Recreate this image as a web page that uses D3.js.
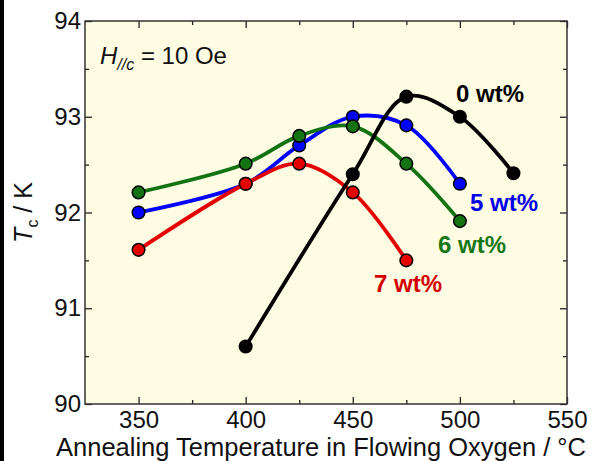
<!DOCTYPE html>
<html>
<head>
<meta charset="utf-8">
<script src="https://cdn.jsdelivr.net/npm/d3@7"></script>
<style>
  body { margin: 0; background: #fff; }
  svg { display: block; font-family: "Liberation Sans", Arial, sans-serif; }
</style>
</head>
<body>
<div id="chart"></div>
<script>
// annealing temperatures (°C) and Tc (K) per Ag content
const temps0 = [400, 450, 475, 500, 525];
const tc0 = [90.6, 92.4, 93.21, 93.0, 92.41];
const temps5 = [350, 400, 425, 450, 475, 500];
const tc5 = [92.0, 92.3, 92.7, 93.0, 92.91, 92.3];
const temps6 = [350, 400, 425, 450, 475, 500];
const tc6 = [92.21, 92.51, 92.8, 92.9, 92.51, 91.91];
const temps7 = [350, 400, 425, 450, 475];
const tc7 = [91.61, 92.3, 92.51, 92.21, 91.5];

const xMajor = [350, 400, 450, 500, 550];
const xMinor = [375, 425, 475, 525];
const yMajor = [90, 91, 92, 93, 94];
const yMinor = [90.5, 91.5, 92.5, 93.5];

const W = 598, H = 461;
const margin = { top: 21, right: 31, bottom: 57, left: 85 };

const svg = d3.select("#chart").append("svg")
    .attr("width", W)
    .attr("height", H);

// dark strip on the left edge of the original figure
svg.append("rect").attr("x", 0).attr("y", 0).attr("width", 4).attr("height", H).attr("fill", "#000");

const x = d3.scaleLinear().domain([325, 550]).range([margin.left, W - margin.right]);
const y = d3.scaleLinear().domain([90, 94]).range([H - margin.bottom, margin.top]);

// plot background
svg.append("rect")
    .attr("x", x(325)).attr("y", y(94))
    .attr("width", x(550) - x(325)).attr("height", y(90) - y(94))
    .attr("fill", "#fefde3");

// axes, ticks pointing inward on all four sides
function styleAxis(g) {
    g.select(".domain").remove();
    g.selectAll("line").attr("stroke", "#222").attr("stroke-width", 1.3);
    g.selectAll("text").attr("fill", "#111").style("font-size", "24px").style("font-family", "Liberation Sans, Arial, sans-serif");
}

svg.append("g").attr("transform", `translate(0,${y(90)})`)
    .call(d3.axisBottom(x).tickValues(xMajor).tickSize(-7).tickPadding(7).tickFormat(d3.format("d")))
    .call(styleAxis);
svg.append("g").attr("transform", `translate(0,${y(90)})`)
    .call(d3.axisBottom(x).tickValues(xMinor).tickSize(-4).tickFormat(""))
    .call(styleAxis);
svg.append("g").attr("transform", `translate(0,${y(94)})`)
    .call(d3.axisTop(x).tickValues(xMajor).tickSize(-7).tickFormat(""))
    .call(styleAxis);
svg.append("g").attr("transform", `translate(0,${y(94)})`)
    .call(d3.axisTop(x).tickValues(xMinor).tickSize(-4).tickFormat(""))
    .call(styleAxis);

svg.append("g").attr("transform", `translate(${x(325)},0)`)
    .call(d3.axisLeft(y).tickValues(yMajor).tickSize(-7).tickPadding(4).tickFormat(d3.format("d")))
    .call(styleAxis);
svg.append("g").attr("transform", `translate(${x(325)},0)`)
    .call(d3.axisLeft(y).tickValues(yMinor).tickSize(-4).tickFormat(""))
    .call(styleAxis);
svg.append("g").attr("transform", `translate(${x(550)},0)`)
    .call(d3.axisRight(y).tickValues(yMajor).tickSize(-7).tickFormat(""))
    .call(styleAxis);
svg.append("g").attr("transform", `translate(${x(550)},0)`)
    .call(d3.axisRight(y).tickValues(yMinor).tickSize(-4).tickFormat(""))
    .call(styleAxis);

// frame
svg.append("rect")
    .attr("x", x(325)).attr("y", y(94))
    .attr("width", x(550) - x(325)).attr("height", y(90) - y(94))
    .attr("fill", "none").attr("stroke", "#333").attr("stroke-width", 1.5);

// series
const series = [
    { xs: temps5, ys: tc5, color: "#0000ff" },
    { xs: temps6, ys: tc6, color: "#137313" },
    { xs: temps7, ys: tc7, color: "#e40000" },
    { xs: temps0, ys: tc0, color: "#000000" }
];

const line = d3.line()
    .x(d => x(d[0]))
    .y(d => y(d[1]))
    .curve(d3.curveCatmullRom.alpha(0.5));

series.forEach(s => {
    const pts = s.xs.map((t, i) => [t, s.ys[i]]);
    svg.append("path")
        .datum(pts)
        .attr("d", line)
        .attr("fill", "none")
        .attr("stroke", s.color)
        .attr("stroke-width", 3.8);
    svg.append("g").selectAll("circle")
        .data(pts)
        .enter().append("circle")
        .attr("cx", d => x(d[0]))
        .attr("cy", d => y(d[1]))
        .attr("r", 6.3)
        .attr("fill", s.color)
        .attr("stroke", "#000")
        .attr("stroke-width", 1.5);
});

// series labels
const labels = [
    { text: "0 wt%", x: 456, y: 102, color: "#000" },
    { text: "5 wt%", x: 470, y: 211, color: "#0000e6" },
    { text: "6 wt%", x: 438, y: 253, color: "#187818" },
    { text: "7 wt%", x: 374, y: 292, color: "#d40000" }
];
svg.append("g").selectAll("text")
    .data(labels)
    .enter().append("text")
    .attr("x", d => d.x)
    .attr("y", d => d.y)
    .attr("fill", d => d.color)
    .style("font-size", "24px")
    .style("font-weight", "bold")
    .text(d => d.text);

// field annotation
const ann = svg.append("text")
    .attr("x", 100).attr("y", 64)
    .attr("fill", "#111")
    .style("font-size", "24px");
ann.append("tspan").style("font-style", "italic").text("H");
ann.append("tspan").style("font-style", "italic").style("font-size", "16px").attr("dy", 6).text("//c");
ann.append("tspan").attr("dy", -6).text(" = 10 Oe");

// axis titles
svg.append("text")
    .attr("x", 321)
    .attr("y", 456)
    .attr("text-anchor", "middle")
    .attr("fill", "#111")
    .style("font-size", "25.5px")
    .text("Annealing Temperature in Flowing Oxygen / °C");

const yt = svg.append("text")
    .attr("transform", `translate(32,${(y(90) + y(94)) / 2}) rotate(-90)`)
    .attr("text-anchor", "middle")
    .attr("fill", "#111")
    .style("font-size", "25px");
yt.append("tspan").style("font-style", "italic").text("T");
yt.append("tspan").style("font-size", "16px").attr("dy", 6).text("c");
yt.append("tspan").attr("dy", -6).text(" / K");
</script>
</body>
</html>
